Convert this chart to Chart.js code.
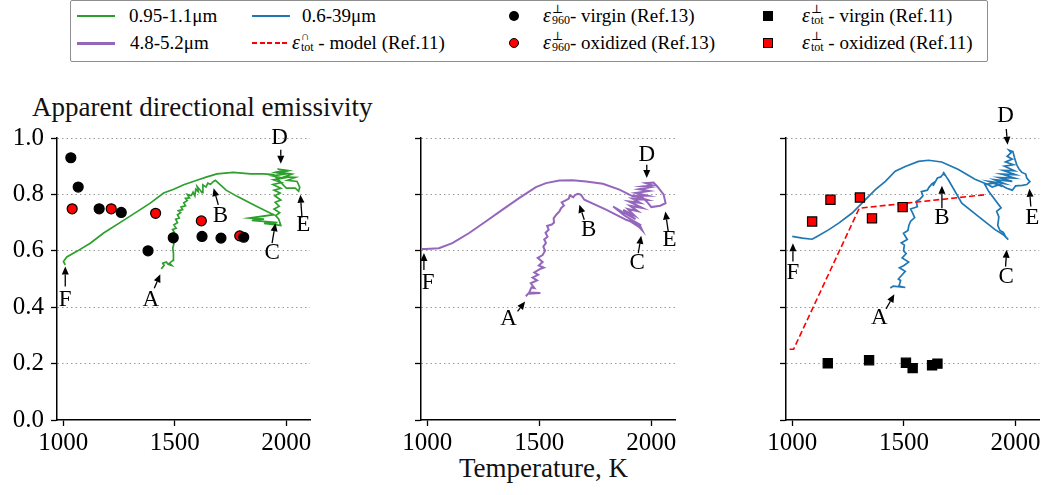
<!DOCTYPE html>
<html>
<head>
<meta charset="utf-8">
<script src="https://cdn.jsdelivr.net/npm/chart.js@4/dist/chart.umd.min.js"></script>
<style>
  body { margin: 0; background: #fff; font-family: "Liberation Serif", "DejaVu Serif", serif; }
  #wrap { position: relative; width: 1047px; height: 495px; overflow: hidden; }
  canvas { position: absolute; top: 70px; }
  .legend { position: absolute; left: 70px; top: 0; width: 918px; height: 62px;
            border: 1.5px solid #8f8f8f; border-radius: 2px; box-sizing: border-box; }
  .it { position: absolute; font-size: 19px; line-height: 19px; white-space: nowrap; color: #000; }
  .ln { position: absolute; height: 2px; width: 38px; }
  .mk { position: absolute; box-sizing: border-box; }
  .m { display: inline-flex; align-items: center; }
  .m i { font-size: 20px; }
  .ss { display: inline-flex; flex-direction: column; font-size: 12px; line-height: 11px; margin-left: 1px; }
  .title { position: absolute; font-size: 27px; white-space: nowrap; color: #111; }
</style>
</head>
<body>
<div id="wrap">

  <div class="legend"></div>
  <div class="ln" style="left:77px; top:15px; background:#2ca02c;"></div>
  <div class="it" style="left:129px; top:6px;">0.95-1.1μm</div>
  <div class="ln" style="left:77px; top:42px; background:#9467bd; height:2.5px;"></div>
  <div class="it" style="left:130px; top:33px;">4.8-5.2μm</div>

  <div class="ln" style="left:252px; top:15px; background:#1f77b4;"></div>
  <div class="it" style="left:302px; top:6px;">0.6-39μm</div>
  <div class="ln" style="left:252px; top:42px; background:repeating-linear-gradient(to right, #f00 0 5px, transparent 5px 7.5px);"></div>
  <div class="it" style="left:292px; top:31px;"><span class="m"><i>ε</i><span class="ss"><span>∩</span><span>tot</span></span></span> - model (Ref.11)</div>

  <div class="mk" style="left:509px; top:11px; width:10px; height:10px; border-radius:50%; background:#000;"></div>
  <div class="it" style="left:543px; top:4px;"><span class="m"><i>ε</i><span class="ss"><span>⊥</span><span>960</span></span></span>- virgin (Ref.13)</div>
  <div class="mk" style="left:509px; top:38px; width:10px; height:10px; border-radius:50%; background:#f00; border:1.2px solid #000;"></div>
  <div class="it" style="left:543px; top:31px;"><span class="m"><i>ε</i><span class="ss"><span>⊥</span><span>960</span></span></span>- oxidized (Ref.13)</div>

  <div class="mk" style="left:763px; top:11px; width:10px; height:10px; background:#000;"></div>
  <div class="it" style="left:802px; top:4px;"><span class="m"><i>ε</i><span class="ss"><span>⊥</span><span>tot</span></span></span> - virgin (Ref.11)</div>
  <div class="mk" style="left:763px; top:38px; width:10px; height:10px; background:#f00; border:1.2px solid #000;"></div>
  <div class="it" style="left:802px; top:31px;"><span class="m"><i>ε</i><span class="ss"><span>⊥</span><span>tot</span></span></span> - oxidized (Ref.11)</div>

  <div class="title" style="left:32px; top:92px;">Apparent directional emissivity</div>
  <div class="title" style="left:459px; top:453px;">Temperature, K</div>

  <canvas id="p1" width="320" height="425" style="left:0px;"></canvas>
  <canvas id="p2" width="321" height="425" style="left:364px;"></canvas>
  <canvas id="p3" width="318" height="425" style="left:729px;"></canvas>
</div>

<script>
// ---- data (temperature in K, emissivity) ----
const xTicks = [1000, 1500, 2000];
const yTicks = [0, 0.2, 0.4, 0.6, 0.8, 1.0];

// 0.95-1.1 um  (path A -> B -> C -> D -> E -> F)
const greenT = [1439, 1452, 1446, 1462, 1470, 1486, 1476, 1492, 1494, 1491, 1496, 1490, 1500, 1484, 1498, 1490, 1506, 1496, 1512, 1504, 1520, 1512, 1526, 1516, 1535, 1528, 1548, 1540, 1556, 1548, 1566, 1556, 1574, 1582, 1590, 1594, 1605, 1600, 1614, 1622, 1626, 1640, 1648, 1660, 1672, 1682,
                1730, 1779, 1868, 1943,
                1835, 1900, 1845, 1960, 1900, 1975, 1966,
                1952, 1970, 1945, 1968, 1950, 1975, 1948, 1972, 1945, 1975, 1940, 1978, 1942, 1985, 1938, 1990, 1950, 1996, 1960, 2010, 1975, 2025, 1990, 2040, 2005, 2048, 2060, 2055,
                2040, 2000, 1990,
                1943, 1898, 1839, 1762, 1689, 1644, 1599, 1540, 1495, 1450, 1390, 1345, 1270, 1181, 1121, 1061, 1016, 1001, 1009];
const greenE = [0.536, 0.548, 0.556, 0.560, 0.552, 0.548, 0.556, 0.566, 0.590, 0.610, 0.625, 0.640, 0.650, 0.660, 0.665, 0.676, 0.680, 0.692, 0.700, 0.712, 0.716, 0.728, 0.735, 0.742, 0.746, 0.755, 0.760, 0.770, 0.778, 0.786, 0.788, 0.800, 0.796, 0.808, 0.795, 0.818, 0.810, 0.828, 0.815, 0.806, 0.834, 0.826, 0.840, 0.836, 0.845, 0.850,
                0.815, 0.793, 0.757, 0.728,
                0.716, 0.712, 0.708, 0.700, 0.697, 0.690, 0.712,
                0.725, 0.735, 0.748, 0.758, 0.772, 0.780, 0.795, 0.805, 0.815, 0.822, 0.835, 0.842, 0.852, 0.858, 0.866, 0.872, 0.878, 0.886, 0.890, 0.884, 0.878, 0.872, 0.862, 0.860, 0.850, 0.846, 0.825, 0.811,
                0.822, 0.822, 0.830,
                0.870, 0.873, 0.873, 0.878, 0.873, 0.862, 0.850, 0.834, 0.818, 0.805, 0.769, 0.746, 0.708, 0.663, 0.627, 0.598, 0.578, 0.562, 0.550];

// 4.8-5.2 um
const purpleT = [1440, 1450, 1505, 1455, 1465, 1478, 1462, 1490, 1470, 1495, 1478, 1502, 1520, 1498, 1515, 1493, 1515, 1526, 1518, 1530, 1522, 1537, 1528, 1542, 1535, 1556, 1566, 1564, 1576, 1590, 1598, 1610, 1600, 1620, 1632, 1636, 1652, 1660, 1672, 1686,
                 1701, 1798, 1888, 1948, 1960, 1945, 1900, 1955, 1880, 1830, 1870, 1930, 1875, 1925, 1895, 1940, 1905, 1960, 1900, 1950, 1915, 1975, 1920, 1985, 1930, 1990, 1945, 1995, 1960, 2005, 1975, 2010, 2025, 2040, 2055, 2064, 2040, 2000, 1985, 1960, 1918,
                 1858, 1784, 1709, 1649, 1590, 1530, 1485, 1410, 1336, 1261, 1187, 1112, 1052, 993, 975];
const purpleE = [0.438, 0.448, 0.450, 0.452, 0.470, 0.468, 0.485, 0.495, 0.505, 0.515, 0.523, 0.535, 0.540, 0.548, 0.560, 0.575, 0.585, 0.600, 0.615, 0.628, 0.640, 0.650, 0.664, 0.675, 0.688, 0.693, 0.700, 0.715, 0.728, 0.740, 0.752, 0.760, 0.772, 0.780, 0.785, 0.796, 0.790, 0.798, 0.802, 0.799,
                 0.781, 0.746, 0.710, 0.692, 0.672, 0.685, 0.708, 0.690, 0.725, 0.757, 0.738, 0.712, 0.745, 0.725, 0.748, 0.740, 0.760, 0.752, 0.775, 0.770, 0.785, 0.782, 0.795, 0.795, 0.805, 0.812, 0.818, 0.825, 0.828, 0.832, 0.840, 0.842, 0.830, 0.815, 0.800, 0.769, 0.760, 0.755, 0.770, 0.790, 0.793,
                 0.817, 0.838, 0.846, 0.850, 0.849, 0.840, 0.826, 0.787, 0.746, 0.704, 0.663, 0.627, 0.609, 0.606, 0.606];

// 0.6-39 um
const blueT = [1439, 1452, 1506, 1478, 1485, 1475, 1492, 1506, 1480, 1500, 1521, 1492, 1510, 1498, 1502, 1488, 1515, 1498, 1518, 1522, 1530, 1548, 1538, 1530, 1560, 1555, 1570, 1585, 1578, 1605, 1612, 1626, 1640, 1630, 1650, 1665, 1675, 1684, 1676,
               1690, 1700, 1759, 1833, 1908, 1945, 1967, 1955, 1945, 1930, 1920, 1925, 1915, 1935, 1880, 1862,
               1905, 1940, 1880, 1950, 1905, 1985, 1925, 1995, 1935, 2000, 1945, 1995, 1950, 1990, 1955, 1985, 1962, 1980, 1970, 1988, 1995, 2005, 2015, 2028, 2045, 2050, 2064, 2050, 2030, 2000, 1985, 1960, 1930, 1895,
               1878, 1818, 1744, 1669, 1610, 1565, 1506, 1461, 1417, 1372, 1312, 1268, 1208, 1164, 1111, 1089, 1045, 1000];
const blueE = [0.468, 0.475, 0.470, 0.475, 0.495, 0.500, 0.515, 0.527, 0.540, 0.548, 0.560, 0.575, 0.590, 0.600, 0.620, 0.628, 0.640, 0.662, 0.672, 0.690, 0.705, 0.718, 0.735, 0.748, 0.756, 0.775, 0.782, 0.795, 0.810, 0.815, 0.825, 0.838, 0.845, 0.830, 0.858, 0.862, 0.872, 0.868, 0.880,
               0.862, 0.850, 0.769, 0.722, 0.675, 0.657, 0.640, 0.650, 0.665, 0.672, 0.690, 0.720, 0.740, 0.752, 0.810, 0.835,
               0.840, 0.828, 0.846, 0.838, 0.852, 0.846, 0.860, 0.858, 0.872, 0.870, 0.885, 0.884, 0.900, 0.905, 0.915, 0.925, 0.935, 0.948, 0.957, 0.952, 0.930, 0.905, 0.890, 0.878, 0.872, 0.858, 0.845, 0.835, 0.832, 0.830, 0.815, 0.822, 0.835, 0.826,
               0.834, 0.854, 0.888, 0.915, 0.921, 0.917, 0.899, 0.882, 0.846, 0.817, 0.769, 0.734, 0.698, 0.675, 0.651, 0.641, 0.645, 0.651];

// model (Ref.11)
const modelT = [988, 1006, 1300, 1866];
const modelE = [0.251, 0.251, 0.751, 0.799];

// Ref.13 points
const virgin13T = [1034, 1067, 1161, 1260, 1380, 1493, 1622, 1707, 1809];
const virgin13E = [0.930, 0.826, 0.749, 0.736, 0.600, 0.646, 0.651, 0.645, 0.648];
const oxid13T = [1040, 1215, 1414, 1619, 1791];
const oxid13E = [0.749, 0.749, 0.733, 0.706, 0.653];

// Ref.11 points
const virgin11T = [1159, 1344, 1509, 1539, 1626, 1650];
const virgin11E = [0.201, 0.212, 0.203, 0.184, 0.194, 0.200];
const oxid11T = [1089, 1171, 1303, 1357, 1494];
const oxid11E = [0.704, 0.781, 0.789, 0.715, 0.755];

// letter labels: [letter, textT, textE, tailT, tailE, tipT, tipE]
const labels1 = [
  ["A", 1393, 0.424, 1408, 0.467, 1435, 0.517],
  ["B", 1704, 0.722, 1695, 0.763, 1674, 0.822],
  ["C", 1936, 0.592, 1936, 0.627, 1951, 0.698],
  ["D", 1970, 1.000, 1975, 0.958, 1975, 0.909],
  ["E", 2076, 0.692, 2070, 0.717, 2063, 0.799],
  ["F", 1009, 0.424, 1009, 0.473, 1009, 0.544]
];
const labels2 = [
  ["A", 1363, 0.357, 1403, 0.385, 1437, 0.420],
  ["B", 1721, 0.674, 1701, 0.710, 1679, 0.763],
  ["C", 1937, 0.556, 1942, 0.592, 1955, 0.653],
  ["D", 1980, 0.941, 1980, 0.905, 1980, 0.858],
  ["E", 2082, 0.639, 2076, 0.668, 2063, 0.739],
  ["F", 1004, 0.485, 985, 0.532, 985, 0.592]
];
const labels3 = [
  ["A", 1390, 0.361, 1420, 0.394, 1457, 0.446],
  ["B", 1670, 0.716, 1670, 0.751, 1670, 0.831],
  ["C", 1958, 0.509, 1955, 0.544, 1960, 0.604],
  ["D", 1955, 1.077, 1958, 1.032, 1964, 0.976],
  ["E", 2074, 0.716, 2068, 0.757, 2062, 0.820],
  ["F", 1003, 0.523, 1003, 0.562, 1003, 0.627]
];

const FONT = "'Liberation Serif', 'DejaVu Serif', serif";

function pts(xs, ys) {
  return xs.map((x, i) => ({ x: x, y: ys[i] }));
}

function lineSet(xs, ys, color, width, dash) {
  return {
    data: pts(xs, ys), showLine: true, borderColor: color, borderWidth: width,
    borderDash: dash || [], pointRadius: 0, tension: 0, order: 2
  };
}

function pointSet(xs, ys, fill, style, r) {
  return {
    data: pts(xs, ys), showLine: false, pointStyle: style, pointRadius: r,
    backgroundColor: fill, borderColor: "#000", borderWidth: 1.2, order: 0
  };
}

function letterPlugin(items) {
  return {
    id: "letters",
    afterDatasetsDraw(chart) {
      const { ctx, scales } = chart;
      const X = v => scales.x.getPixelForValue(v);
      const Y = v => scales.y.getPixelForValue(v);
      ctx.save();
      ctx.fillStyle = "#000";
      ctx.strokeStyle = "#000";
      ctx.lineWidth = 1.3;
      ctx.font = "23px " + FONT;
      ctx.textAlign = "center";
      ctx.textBaseline = "middle";
      items.forEach(([t, tx, ty, x0, y0, x1, y1]) => {
        ctx.fillText(t, X(tx), Y(ty));
        const ax = X(x0), ay = Y(y0), bx = X(x1), by = Y(y1);
        const ang = Math.atan2(by - ay, bx - ax);
        const hl = 8, hw = 3.5;
        const ex = bx - hl * Math.cos(ang), ey = by - hl * Math.sin(ang);
        ctx.beginPath();
        ctx.moveTo(ax, ay);
        ctx.lineTo(ex, ey);
        ctx.stroke();
        ctx.beginPath();
        ctx.moveTo(bx, by);
        ctx.lineTo(ex + hw * Math.sin(ang), ey - hw * Math.cos(ang));
        ctx.lineTo(ex - hw * Math.sin(ang), ey + hw * Math.cos(ang));
        ctx.closePath();
        ctx.fill();
      });
      ctx.restore();
    }
  };
}

function makePanel(id, datasets, showY, padRight, items) {
  return new Chart(document.getElementById(id), {
    type: "scatter",
    data: { datasets: datasets },
    options: {
      responsive: false,
      animation: false,
      layout: { padding: { top: 68, right: padRight, left: 0, bottom: 0 } },
      plugins: { legend: { display: false }, tooltip: { enabled: false } },
      scales: {
        x: {
          type: "linear", min: 972, max: 2106,
          afterBuildTicks: s => { s.ticks = xTicks.map(v => ({ value: v })); },
          afterFit: s => { s.height = 75; },
          grid: { drawOnChartArea: false, tickLength: 6, tickColor: "#000", tickWidth: 1.3 },
          border: { display: true, color: "#000", width: 1.5 },
          ticks: { color: "#000", font: { family: FONT, size: 25 }, padding: 2, maxRotation: 0, autoSkip: false,
                   callback: v => String(v) }
        },
        y: {
          type: "linear", min: 0, max: 1,
          afterBuildTicks: s => { s.ticks = yTicks.map(v => ({ value: v })); },
          afterFit: s => { s.width = 57; },
          grid: {
            color: c => (c.tick && c.tick.value === 0) ? "rgba(0,0,0,0)" : "#9a9a9a",
            lineWidth: 1, tickLength: 6, tickColor: "#000", tickWidth: 1.3, tickBorderDash: []
          },
          border: { display: true, color: "#000", width: 1.5, dash: [1.5, 3] },
          ticks: { display: showY, color: "#000", font: { family: FONT, size: 25 }, padding: 7,
                   callback: v => v.toFixed(1) }
        }
      }
    },
    plugins: [letterPlugin(items)]
  });
}

makePanel("p1", [
  pointSet(virgin13T, virgin13E, "#000", "circle", 5),
  pointSet(oxid13T, oxid13E, "#f00", "circle", 5),
  lineSet(greenT, greenE, "#2ca02c", 1.7)
], true, 10, labels1);

makePanel("p2", [
  lineSet(purpleT, purpleE, "#9467bd", 2)
], false, 10, labels2);

makePanel("p3", [
  pointSet(virgin11T, virgin11E, "#000", "rect", 6.5),
  pointSet(oxid11T, oxid11E, "#f00", "rect", 6.5),
  lineSet(modelT, modelE, "#f00", 1.6, [6, 3]),
  lineSet(blueT, blueE, "#1f77b4", 1.7)
], false, 7, labels3);
</script>
</body>
</html>
